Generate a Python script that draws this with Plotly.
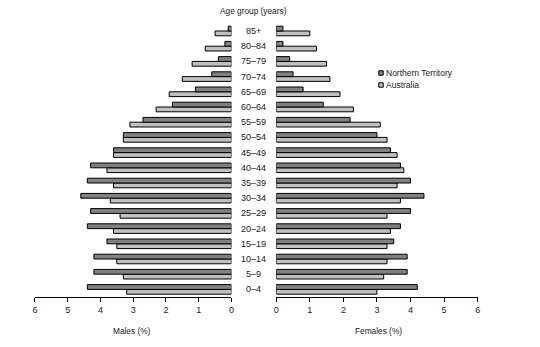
import plotly.graph_objects as go

# Age groups, youngest first (bottom of the pyramid)
age_groups = ["0–4", "5–9", "10–14", "15–19", "20–24", "25–29", "30–34", "35–39",
              "40–44", "45–49", "50–54", "55–59", "60–64", "65–69", "70–74",
              "75–79", "80–84", "85+"]

# Share of population (%) by sex
nt_males = [4.4, 4.2, 4.2, 3.8, 4.4, 4.3, 4.6, 4.4, 4.3, 3.6, 3.3, 2.7, 1.8, 1.1, 0.6, 0.4, 0.2, 0.1]
aus_males = [3.2, 3.3, 3.5, 3.5, 3.6, 3.4, 3.7, 3.6, 3.8, 3.6, 3.3, 3.1, 2.3, 1.9, 1.5, 1.2, 0.8, 0.5]
nt_females = [4.2, 3.9, 3.9, 3.5, 3.7, 4.0, 4.4, 4.0, 3.7, 3.4, 3.0, 2.2, 1.4, 0.8, 0.5, 0.4, 0.2, 0.2]
aus_females = [3.0, 3.2, 3.3, 3.3, 3.4, 3.3, 3.7, 3.6, 3.8, 3.6, 3.3, 3.1, 2.3, 1.9, 1.6, 1.5, 1.2, 1.0]

x_ticks = [0, 1, 2, 3, 4, 5, 6]

NT_COLOR = "#808080"
AUS_COLOR = "#c0c0c0"
FONT = "Liberation Sans"
TEXT_COLOR = "#1a1a1a"
W, H = 540, 347

positions = list(range(len(age_groups)))

fig = go.Figure()

def add_bars(values, color, xa, ya, name):
    fig.add_trace(go.Bar(
        x=values, y=positions, orientation="h", name=name,
        marker=dict(color=color, line=dict(color="black", width=1)),
        xaxis=xa, yaxis=ya, showlegend=False, hoverinfo="x+name",
    ))

# Australia first so Northern Territory sits above it in each group
add_bars(aus_males, AUS_COLOR, "x", "y", "Australia")
add_bars(nt_males, NT_COLOR, "x", "y", "Northern Territory")
add_bars(aus_females, AUS_COLOR, "x2", "y2", "Australia")
add_bars(nt_females, NT_COLOR, "x2", "y2", "Northern Territory")

y_dom = [1 - 297 / H, 1 - 23.4 / H]
axis_common = dict(
    tickvals=x_ticks, ticktext=[str(t) for t in x_ticks],
    showgrid=False, zeroline=False, showline=True, linecolor="black", linewidth=1,
    ticks="outside", ticklen=4, tickcolor="black", tickwidth=1,
    tickfont=dict(family=FONT, size=9, color=TEXT_COLOR), fixedrange=True,
)
yaxis_common = dict(
    range=[-0.5, 17.5], domain=y_dom, showticklabels=False, showgrid=False,
    zeroline=False, showline=False, ticks="", fixedrange=True,
)

fig.update_layout(
    width=W, height=H,
    margin=dict(l=0, r=0, t=0, b=0),
    paper_bgcolor="white", plot_bgcolor="white",
    barmode="group", bargap=0.37, bargroupgap=0,
    font=dict(family=FONT, size=9, color=TEXT_COLOR),
    xaxis=dict(domain=[32.3 / W, 231 / W], range=[6, 0], anchor="y", **axis_common),
    xaxis2=dict(domain=[276.3 / W, 480 / W], range=[0, 6], anchor="y2", **axis_common),
    yaxis=dict(anchor="x", **yaxis_common),
    yaxis2=dict(anchor="x2", **yaxis_common),
)

annotations = []
# Age group labels between the two halves
for pos, label in zip(positions, age_groups):
    annotations.append(dict(
        x=253.5 / W, y=pos, xref="paper", yref="y", text=label, showarrow=False,
        xanchor="center", yanchor="middle", font=dict(family=FONT, size=9, color=TEXT_COLOR),
    ))

annotations += [
    dict(x=253.5 / W, y=1 - 11 / H, xref="paper", yref="paper", text="Age group (years)",
         showarrow=False, xanchor="center", yanchor="middle",
         font=dict(family=FONT, size=8.3, color=TEXT_COLOR)),
    dict(x=130 / W, y=1 - 331 / H, xref="paper", yref="paper", text="Males (%)",
         showarrow=False, xanchor="center", yanchor="middle",
         font=dict(family=FONT, size=8.3, color=TEXT_COLOR)),
    dict(x=380 / W, y=1 - 331 / H, xref="paper", yref="paper", text="Females (%)",
         showarrow=False, xanchor="center", yanchor="middle",
         font=dict(family=FONT, size=8.3, color=TEXT_COLOR)),
]

# Legend: small swatches with labels
shapes = []
for yc, color, name in [(73, NT_COLOR, "Northern Territory"), (85, AUS_COLOR, "Australia")]:
    shapes.append(dict(type="rect", xref="paper", yref="paper",
                       x0=380 / W, x1=384.5 / W, y0=1 - (yc + 2.2) / H, y1=1 - (yc - 2.2) / H,
                       fillcolor=color, line=dict(color="black", width=1)))
    annotations.append(dict(x=385.5 / W, y=1 - yc / H, xref="paper", yref="paper", text=name,
                            showarrow=False, xanchor="left", yanchor="middle",
                            font=dict(family=FONT, size=8.5, color=TEXT_COLOR)))

fig.update_layout(annotations=annotations, shapes=shapes)

fig.write_html("out.html")
